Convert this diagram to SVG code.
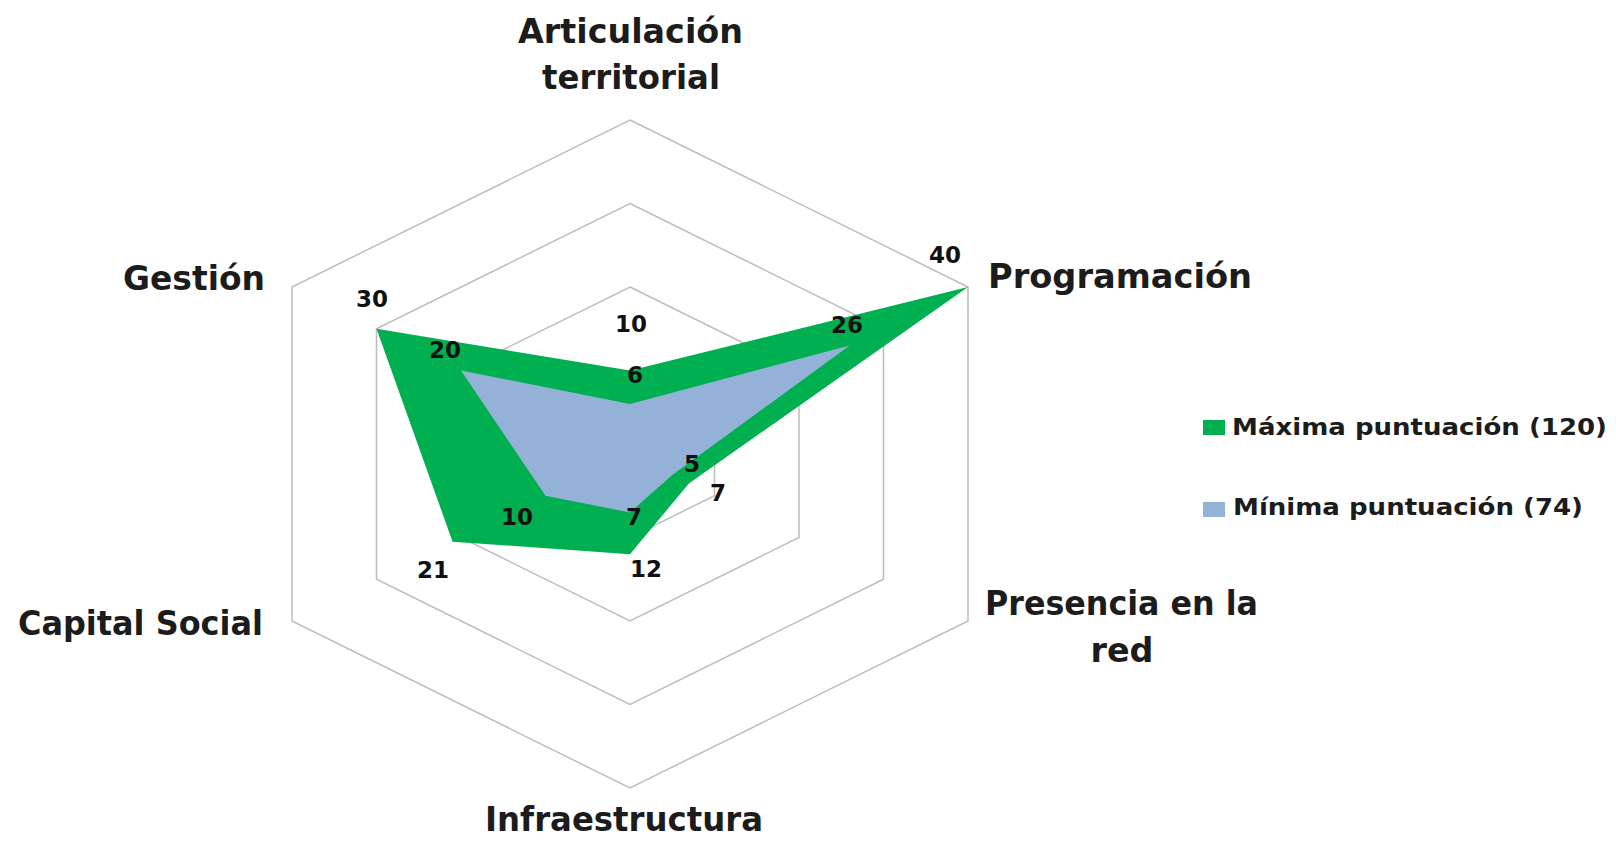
<svg xmlns="http://www.w3.org/2000/svg" width="1616" height="841" viewBox="0 0 1616 841">
<style>
.ring{fill:none;stroke:#bdbdbd;stroke-width:1.5}
.ax{font-family:"DejaVu Sans","Liberation Sans",sans-serif;font-weight:bold;font-size:33px;fill:#1c1c1c}
.dl{font-family:"DejaVu Sans","Liberation Sans",sans-serif;font-weight:bold;font-size:23px;fill:#111;text-anchor:middle}
.lg{font-family:"DejaVu Sans","Liberation Sans",sans-serif;font-weight:bold;font-size:23px;fill:#1c1c1c}
</style>
<rect width="1616" height="841" fill="#ffffff"/>
<g id="grid">
<polygon class="ring" points="630,120 968,287 968,621 630,788 292,621 292,287"/>
<polygon class="ring" points="630,203.5 883.5,328.75 883.5,579.25 630,704.5 376.5,579.25 376.5,328.75"/>
<polygon class="ring" points="630,287 799,370.5 799,537.5 630,621 461,537.5 461,370.5"/>
<polygon class="ring" points="630,370.5 714.5,412.25 714.5,495.75 630,537.5 545.5,495.75 545.5,412.25"/>
</g>
<g id="series-max">
<polygon points="630,370.5 968,287 689.15,483.2 630,554.2 452.55,541.7 376.5,328.75" fill="#00b050"/>
</g>
<g id="series-min">
<polygon points="630,403.9 849.7,345.45 672.25,474.9 630,512.45 545.5,495.75 461,370.5" fill="#94b2d8"/>
</g>
<g id="axis-labels">
<g id="lbl-articulacion">
<text class="ax" x="630.5" y="43" text-anchor="middle" textLength="225" lengthAdjust="spacingAndGlyphs">Articulación</text>
<text class="ax" x="631" y="89" text-anchor="middle" textLength="178" lengthAdjust="spacingAndGlyphs">territorial</text>
</g>
<g id="lbl-programacion"><text class="ax" x="988" y="288" textLength="264" lengthAdjust="spacingAndGlyphs">Programación</text></g>
<g id="lbl-presencia">
<text class="ax" x="985" y="615" textLength="273" lengthAdjust="spacingAndGlyphs">Presencia en la</text>
<text class="ax" x="1122" y="662" text-anchor="middle" textLength="63" lengthAdjust="spacingAndGlyphs">red</text>
</g>
<g id="lbl-infraestructura"><text class="ax" x="485" y="831" textLength="278" lengthAdjust="spacingAndGlyphs">Infraestructura</text></g>
<g id="lbl-capital"><text class="ax" x="18" y="635" textLength="245" lengthAdjust="spacingAndGlyphs">Capital Social</text></g>
<g id="lbl-gestion"><text class="ax" x="123" y="290" textLength="142" lengthAdjust="spacingAndGlyphs">Gestión</text></g>
</g>
<g id="data-labels">
<text class="dl" x="945" y="263">40</text>
<text class="dl" x="847" y="333">26</text>
<text class="dl" x="372" y="307">30</text>
<text class="dl" x="445" y="358">20</text>
<text class="dl" x="631" y="332">10</text>
<text class="dl" x="635" y="383">6</text>
<text class="dl" x="692" y="472">5</text>
<text class="dl" x="718" y="501">7</text>
<text class="dl" x="517" y="525">10</text>
<text class="dl" x="634" y="525">7</text>
<text class="dl" x="433" y="578">21</text>
<text class="dl" x="646" y="577">12</text>
</g>
<g id="legend">
<g id="legend-max">
<rect x="1203" y="420" width="22" height="15" fill="#00b050"/>
<text class="lg" x="1232" y="435" textLength="375" lengthAdjust="spacingAndGlyphs">Máxima puntuación (120)</text>
</g>
<g id="legend-min">
<rect x="1203" y="502" width="22" height="15" fill="#94b2d8"/>
<text class="lg" x="1233" y="515" textLength="350" lengthAdjust="spacingAndGlyphs">Mínima puntuación (74)</text>
</g>
</g>
</svg>
